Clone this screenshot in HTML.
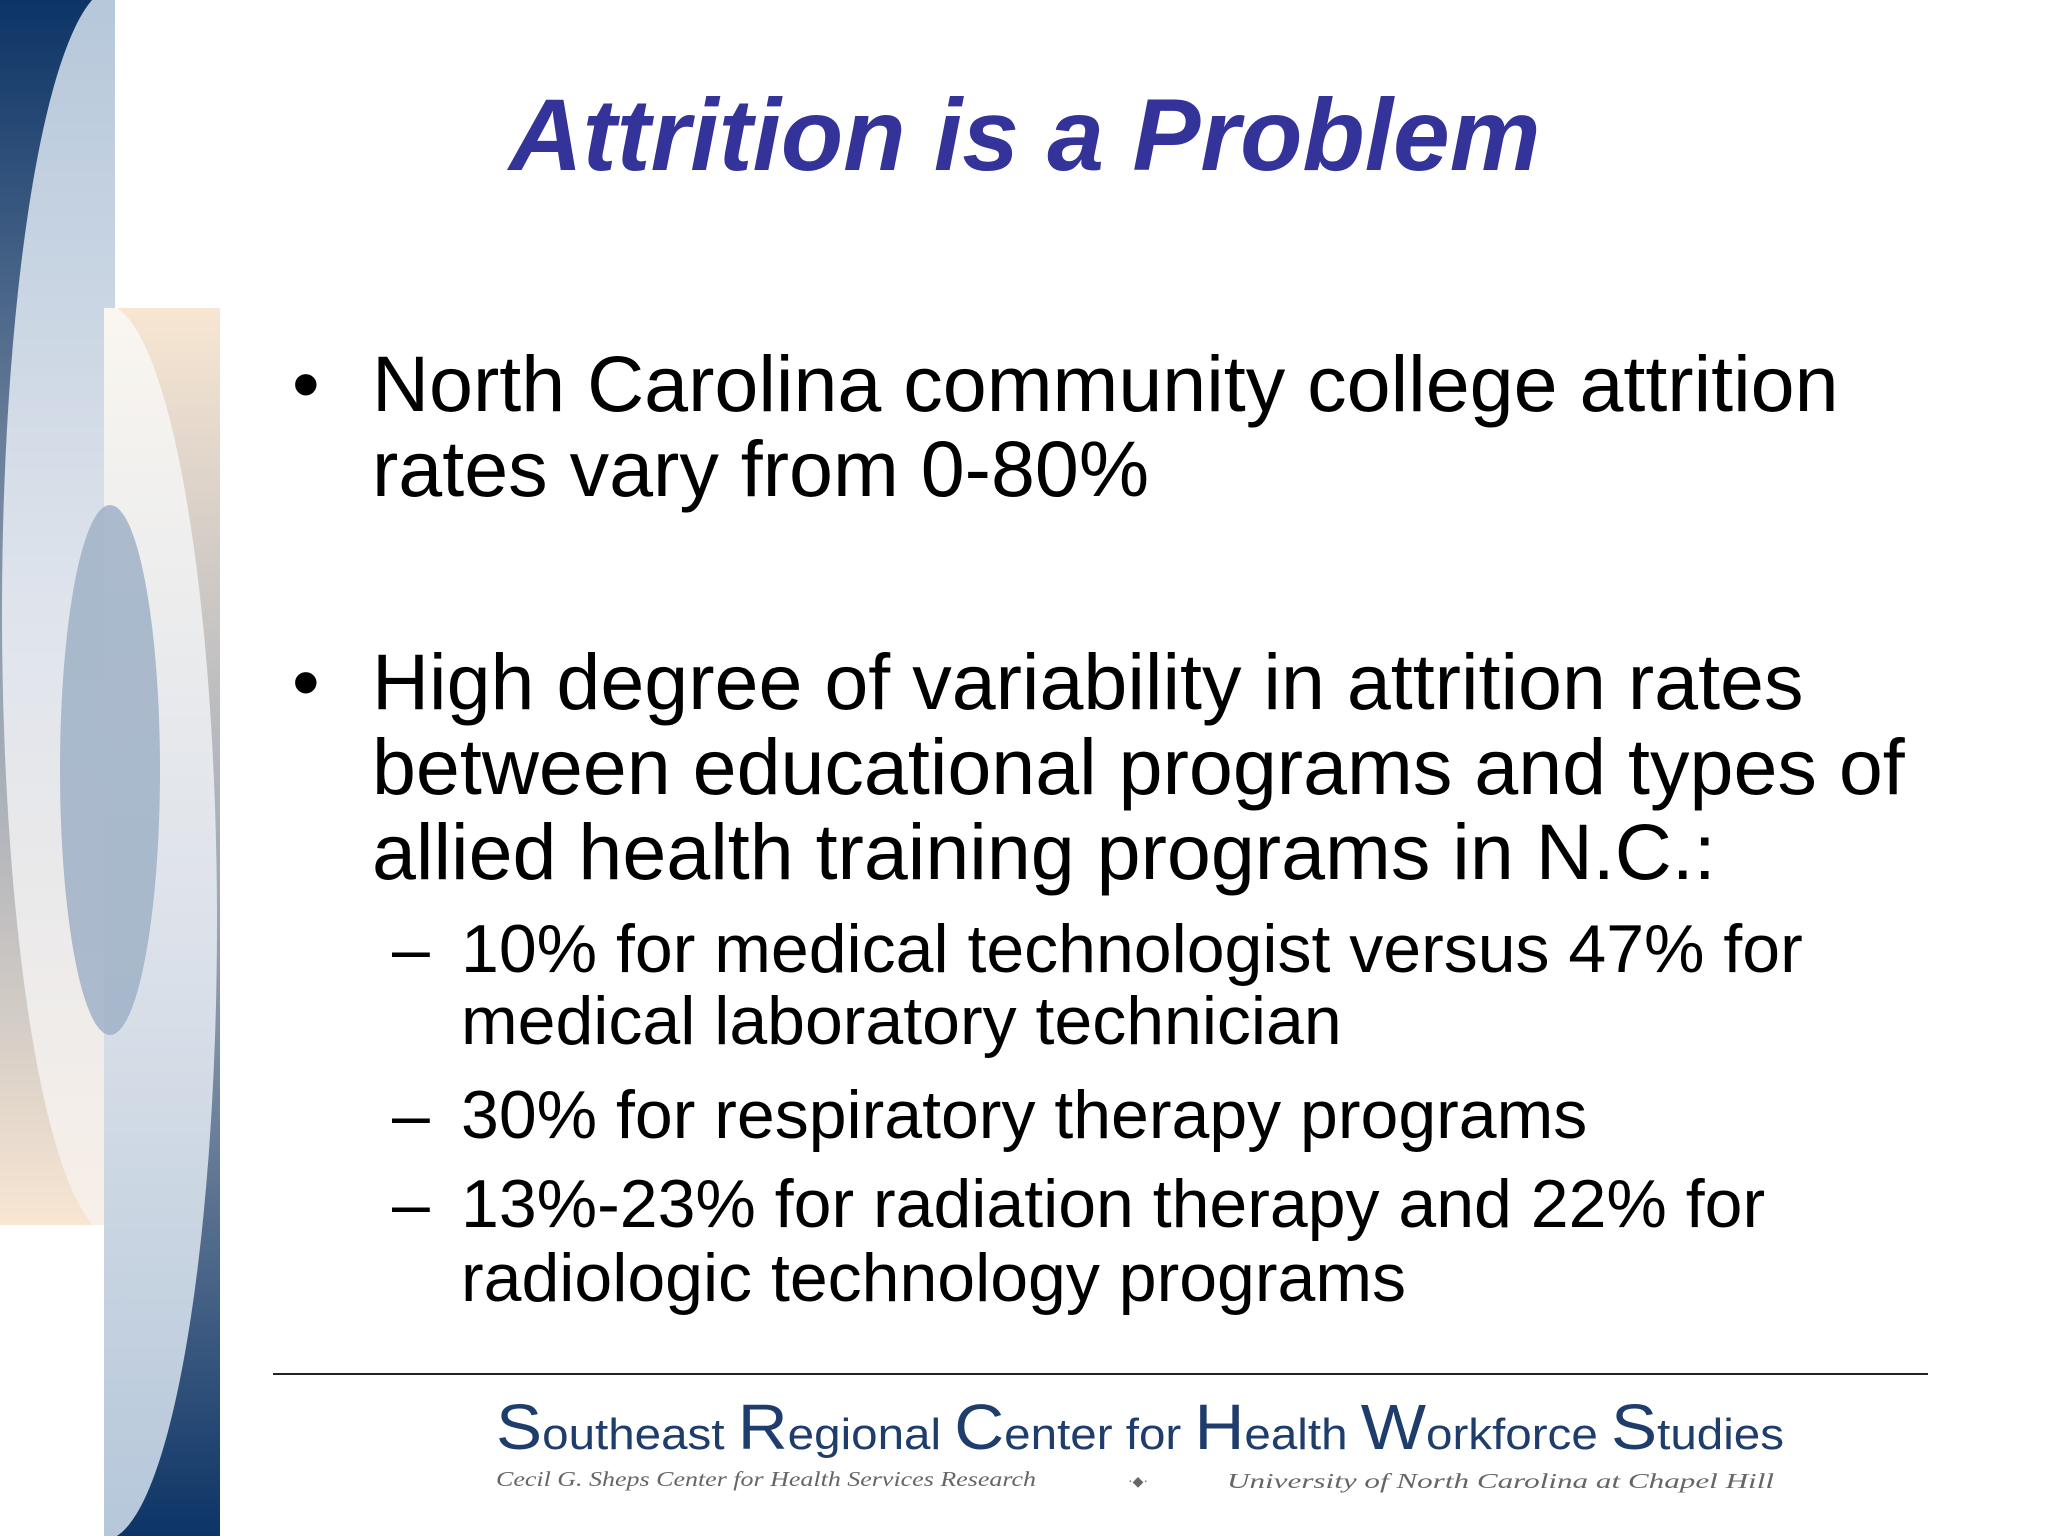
<!DOCTYPE html>
<html><head><meta charset="utf-8"><style>
html,body{margin:0;padding:0;background:#fff;}
#slide{position:relative;width:2048px;height:1536px;overflow:hidden;background:#fff;font-family:"Liberation Sans",Arial,sans-serif;}
.t{position:absolute;white-space:nowrap;line-height:1em;color:#000;}
.b{font-size:79px;}
.s{font-size:68px;}
</style></head><body>
<div id="slide">
<svg width="2048" height="1536" style="position:absolute;left:0;top:0">
<defs>
<linearGradient id="g1" x1="0" y1="0" x2="0" y2="1"><stop offset="0" stop-color="#0c3466"/><stop offset="0.5" stop-color="#8c9aae"/><stop offset="1" stop-color="#f8e6d2"/></linearGradient>
<linearGradient id="g1l" x1="0" y1="0" x2="0" y2="1"><stop offset="0" stop-color="#b5c7da"/><stop offset="0.5" stop-color="#dfe4ec"/><stop offset="1" stop-color="#f8f0e8"/></linearGradient>
<linearGradient id="g2" x1="0" y1="0" x2="0" y2="1"><stop offset="0" stop-color="#f8e6d2"/><stop offset="0.5" stop-color="#9ba6b5"/><stop offset="1" stop-color="#0c3466"/></linearGradient>
<linearGradient id="g2l" x1="0" y1="0" x2="0" y2="1"><stop offset="0" stop-color="#faf6f0"/><stop offset="0.5" stop-color="#dde2ea"/><stop offset="1" stop-color="#b5c7da"/></linearGradient>
<clipPath id="c1"><rect x="0" y="0" width="115" height="1225"/></clipPath>
<clipPath id="c2"><rect x="104" y="308" width="116" height="1228"/></clipPath>
</defs>
<rect x="0" y="0" width="115" height="1225" fill="url(#g1)"/>
<ellipse cx="115" cy="612" rx="113" ry="625" fill="url(#g1l)" clip-path="url(#c1)"/>
<rect x="104" y="308" width="116" height="1228" fill="url(#g2)"/>
<ellipse cx="104" cy="922" rx="113" ry="618" fill="url(#g2l)" clip-path="url(#c2)"/>
<ellipse cx="110" cy="770" rx="50" ry="265" fill="#9fb2c7" opacity="0.85"/>
</svg>

<div class="t" style="left:509px;top:84px;font-size:102px;font-weight:bold;font-style:italic;color:#333399;">Attrition is a Problem</div>

<div class="t b" style="left:292px;top:344px;">•</div>
<div class="t b" style="left:372px;top:344px;">North Carolina community college attrition</div>
<div class="t b" style="left:372px;top:429px;">rates vary from 0-80%</div>

<div class="t b" style="left:292px;top:642px;">•</div>
<div class="t b" style="left:372px;top:642px;">High degree of variability in attrition rates</div>
<div class="t b" style="left:372px;top:727px;">between educational programs and types of</div>
<div class="t b" style="left:372px;top:812px;">allied health training programs in N.C.:</div>

<div class="t s" style="left:392px;top:915px;">–</div>
<div class="t s" style="left:461px;top:915px;">10% for medical technologist versus 47% for</div>
<div class="t s" style="left:461px;top:987px;">medical laboratory technician</div>
<div class="t s" style="left:392px;top:1081px;">–</div>
<div class="t s" style="left:461px;top:1081px;">30% for respiratory therapy programs</div>
<div class="t s" style="left:392px;top:1170px;">–</div>
<div class="t s" style="left:461px;top:1170px;">13%-23% for radiation therapy and 22% for</div>
<div class="t s" style="left:461px;top:1244px;">radiologic technology programs</div>

<div style="position:absolute;left:273px;top:1373px;width:1655px;height:2px;background:#222;"></div>

<svg width="2048" height="1536" style="position:absolute;left:0;top:0">
<text x="496" y="1449" textLength="1288" lengthAdjust="spacingAndGlyphs" font-family="Liberation Sans Narrow, Liberation Sans, sans-serif" font-size="44" fill="#1f3d6c"><tspan font-size="64">S</tspan>outheast <tspan font-size="64">R</tspan>egional <tspan font-size="64">C</tspan>enter for <tspan font-size="64">H</tspan>ealth <tspan font-size="64">W</tspan>orkforce <tspan font-size="64">S</tspan>tudies</text>
<text x="496" y="1486" textLength="540" lengthAdjust="spacingAndGlyphs" font-family="Liberation Serif, serif" font-style="italic" font-size="21" fill="#666">Cecil G. Sheps Center for Health Services Research</text>
<text x="1128" y="1486" font-family="Liberation Serif, serif" font-size="14" fill="#666">·◆·</text>
<text x="1227" y="1488" textLength="547" lengthAdjust="spacingAndGlyphs" font-family="Liberation Serif, serif" font-style="italic" font-size="21" fill="#666">University of North Carolina at Chapel Hill</text>
</svg>
</div>
</body></html>
